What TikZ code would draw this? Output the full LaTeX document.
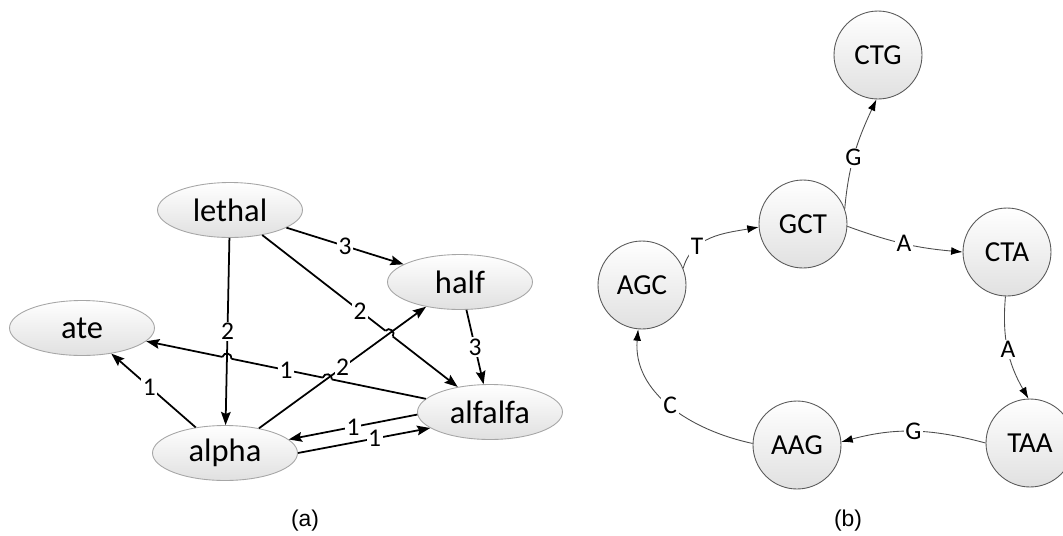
\documentclass[tikz,border=0pt]{standalone}
\usepackage{fontspec}
\setmainfont{Carlito}
\newfontfamily\capfont{Liberation Sans}
\usetikzlibrary{arrows.meta,shapes.geometric,calc,intersections}

\newcommand\hop[3]{%
  \draw[white,line width=3pt] ($(#1)!2.6pt!(#2)$) -- ($(#1)!2.6pt!(#3)$);
  \draw[line width=1pt] ($(#1)!2.6pt!(#2)$) to[bend left=90,looseness=1.6] ($(#1)!2.6pt!(#3)$);}

\begin{document}
\begin{tikzpicture}[
    x=0.02cm,y=0.02cm,
    word/.style={ellipse,draw=gray!70,line width=0.5pt,top color=white,bottom color=gray!24,
                 minimum width=2.9cm,minimum height=1.1cm,inner sep=0pt,
                 font=\fontsize{18.5}{21}\selectfont},
    kmer/.style={circle,draw=gray!70!black,line width=0.5pt,top color=white,bottom color=gray!24,
                 minimum size=1.76cm,inner sep=0pt,font=\fontsize{16.5}{19}\selectfont},
    wt/.style={fill=white,inner sep=0.8pt,font=\fontsize{14.5}{16}\selectfont},
    base/.style={fill=white,inner sep=1pt,font=\fontsize{14.5}{16}\selectfont},
    arr/.style={-{Stealth[length=7.5pt,width=5.5pt,inset=1.2pt]},line width=1pt},
    link/.style={-{Latex[length=6.5pt,width=4.5pt,color=black]},draw=gray!60!black,line width=0.5pt},
    subcap/.style={font=\capfont\fontsize{13}{15}\selectfont}
  ]
  \useasboundingbox (0,0) rectangle (1063,-535);

  \node[word] (lethal) at (230,-210) {lethal};
  \node[word] (half) at (460,-282) {half};
  \node[word] (ate) at (82,-328) {ate};
  \node[word] (alfalfa) at (490,-412) {alfalfa};
  \node[word] (alpha) at (225,-453) {alpha};

  \path[name path=fa] (alfalfa) -- (ate);
  \path[name path=la] (lethal) -- (alpha);
  \path[name path=ah] (alpha) -- (half);
  \path[name path=lf] (lethal) -- (alfalfa);
  \path[name intersections={of=fa and la,by=j1}];
  \path[name intersections={of=fa and ah,by=j2}];
  \path[name intersections={of=lf and ah,by=j3}];

  \draw[arr] (alfalfa) -- node[wt]{1} (ate);
  \draw[arr] (lethal) -- node[wt]{2} (alfalfa);
  \hop{j1}{ate}{alfalfa}
  \hop{j2}{ate}{alfalfa}
  \hop{j3}{lethal}{alfalfa}
  \draw[arr] (lethal) -- node[wt]{2} (alpha);
  \draw[arr] (alpha) -- node[wt]{2} (half);
  \draw[arr] (lethal) -- node[wt]{3} (half);
  \draw[arr] (half) -- node[wt]{3} (alfalfa);
  \draw[arr] (alpha) -- node[wt,pos=0.55]{1} (ate);
  \draw[arr] (alfalfa.182) -- node[wt]{1} (alpha.12);
  \draw[arr] (alpha.0) -- node[wt,pos=0.58]{1} (alfalfa.195);

  \node[kmer] (CTG) at (878,-55) {CTG};
  \node[kmer] (GCT) at (803,-224) {GCT};
  \node[kmer] (CTA) at (1007,-252) {CTA};
  \node[kmer] (AGC) at (642,-285) {AGC};
  \node[kmer] (TAA) at (1030,-443) {TAA};
  \node[kmer] (AAG) at (797,-445) {AAG};

  \draw[link] (AGC.22) to[out=75,in=190] node[base,pos=0.3]{T} (GCT.184);
  \draw[link] (GCT.20) to[out=85,in=245] node[base,pos=0.45]{G} (CTG.268);
  \draw[link] (GCT.357) to[out=-20,in=175] node[base]{A} (CTA.180);
  \draw[link] (CTA.268) to[out=265,in=120] node[base]{A} (TAA.92);
  \draw[link] (TAA.180) to[out=165,in=15] node[base]{G} (AAG.4);
  \draw[link] (AAG.178) to[out=168,in=265] node[base,pos=0.5]{C} (AGC.265);

  \node[subcap] (capa) at (305,-521) {(a)};
  \node[subcap] (capb) at (848,-521) {(b)};
\end{tikzpicture}
\end{document}
